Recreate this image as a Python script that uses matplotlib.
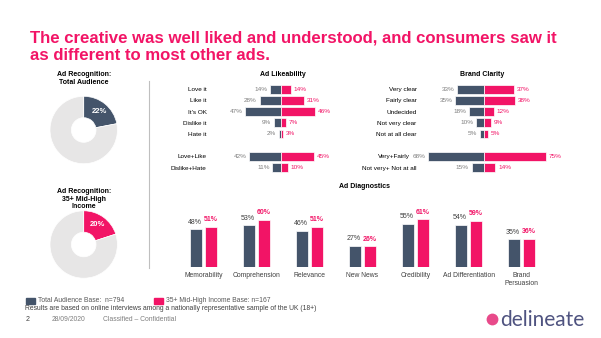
import matplotlib
matplotlib.use("Agg")
import matplotlib.pyplot as plt
from matplotlib.patches import Rectangle
from matplotlib.lines import Line2D
from matplotlib.transforms import ScaledTranslation

plt.rcParams['font.family'] = ['Liberation Sans', 'DejaVu Sans']

# colours
NAVY = '#44546A'
PINK = '#F21466'
GREY_RING = '#E7E6E6'
TXT = '#404040'
TXT_GREY = '#7F7F7F'

# data
recog_total = 22
recog_income = 20

like_cats = ["Love it", "Like it", "It's OK", "Dislike it", "Hate it", "Love+Like", "Dislike+Hate"]
like_total = [14, 28, 47, 9, 2, 42, 11]
like_income = [14, 31, 46, 7, 3, 45, 10]

clar_cats = ["Very clear", "Fairly clear", "Undecided", "Not very clear", "Not at all clear",
             "Very+Fairly", "Not very+ Not at all"]
clar_total = [33, 35, 18, 10, 5, 68, 15]
clar_income = [37, 38, 12, 9, 5, 75, 14]

diag_cats = ["Memorability", "Comprehension", "Relevance", "New News", "Credibility",
             "Ad Differentiation", "Brand\nPersuasion"]
diag_total = [48, 53, 46, 27, 55, 54, 35]
diag_income = [51, 60, 51, 26, 61, 59, 36]

row_pos = [0, 1, 2, 3, 4, 6, 7]

W, H = 601, 338
fig = plt.figure(figsize=(W / 100, H / 100), dpi=100)


def box(left, top, width, height):
    # pixel box -> figure fraction rect
    return [left / W, 1 - (top + height) / H, width / W, height / H]


def fx(x):
    return x / W


def fy(y):
    return 1 - y / H


# title
fig.text(fx(30), fy(42.5), "The creative was well liked and understood, and consumers saw it",
         color=PINK, fontsize=12.1, fontweight='bold', va='baseline')
fig.text(fx(30), fy(60), "as different to most other ads.",
         color=PINK, fontsize=12.1, fontweight='bold', va='baseline')


# donuts
def donut(cy, value, colour, title, title_top):
    r = 33.7
    ax = fig.add_axes(box(83.7 - r, cy - r, 2 * r, 2 * r))
    ax.pie([value, 100 - value], colors=[colour, GREY_RING], startangle=90, counterclock=False,
           wedgeprops=dict(width=0.635, edgecolor='white', linewidth=0.5),
           autopct=lambda p: f'{p:.0f}%' if abs(p - value) < 0.5 else '',
           pctdistance=0.72, textprops=dict(color='white', fontsize=5.5, fontweight='bold'))
    ax.set_xlim(-1, 1)
    ax.set_ylim(-1, 1)
    ax.set_aspect('equal')
    ax.axis('off')
    fig.text(fx(83.7), fy(title_top), title, ha='center', va='top', fontsize=5,
             fontweight='bold', color='black', linespacing=1.15)


donut(130, recog_total, NAVY, "Ad Recognition:\nTotal Audience", 71.5)
donut(244.5, recog_income, PINK, "Ad Recognition:\n35+ Mid-High\nIncome", 188)

fig.add_artist(Line2D([fx(149), fx(149)], [fy(81), fy(268)], color='#BFBFBF', lw=0.8,
                      transform=fig.transFigure))


# diverging bar charts
def diverge(ax, cats, left_vals, right_vals, lim, label_pad_pt):
    ax.barh(row_pos, [-v for v in left_vals], height=0.78, color=NAVY, edgecolor='white', linewidth=0.5)
    ax.barh(row_pos, right_vals, height=0.78, color=PINK, edgecolor='white', linewidth=0.5)
    for y, v in zip(row_pos, left_vals):
        ax.annotate(f'{v}%', (-v, y), xytext=(-2, 0), textcoords='offset points',
                    ha='right', va='center', fontsize=4.6, color=TXT_GREY)
    for y, v in zip(row_pos, right_vals):
        ax.annotate(f'{v}%', (v, y), xytext=(2, 0), textcoords='offset points',
                    ha='left', va='center', fontsize=4.6, color=PINK)
    ax.set_xlim(-lim, lim)
    ax.set_ylim(7.5, -0.5)
    ax.set_yticks(row_pos, cats)
    ax.tick_params(axis='y', length=0, pad=label_pad_pt, labelsize=4.6, labelcolor='black')
    ax.set_xticks([])
    for s in ax.spines.values():
        s.set_visible(False)
    ax.patch.set_alpha(0)


ax_like = fig.add_axes(box(235.7, 83.7, 90, 89.4))
diverge(ax_like, like_cats, like_total, like_income, 60, 29 * 0.72)
fig.text(fx(283), fy(74), "Ad Likeability", ha='center', va='center', fontsize=5, fontweight='bold')

ax_clar = fig.add_axes(box(418.4, 83.7, 131.2, 89.4))
diverge(ax_clar, clar_cats, clar_total, clar_income, 80, 1.7 * 0.72)
fig.text(fx(481.7), fy(75), "Brand Clarity", ha='center', va='center', fontsize=5, fontweight='bold')
# "Very+Fairly" sits a little left to clear the 68% label
lab = ax_clar.get_yticklabels()[5]
lab.set_transform(lab.get_transform() + ScaledTranslation(-5 / 72, 0, fig.dpi_scale_trans))

# diagnostics
ax_d = fig.add_axes(box(176.8, 204.3, 371.4, 62.4))
x = list(range(len(diag_cats)))
ax_d.bar([i - 0.14 for i in x], diag_total, width=0.22, color=NAVY, edgecolor='white', linewidth=0.5)
ax_d.bar([i + 0.14 for i in x], diag_income, width=0.22, color=PINK, edgecolor='white', linewidth=0.5)
for i, v in zip(x, diag_total):
    ax_d.annotate(f'{v}%', (i - 0.16, v), xytext=(0, 2.5), textcoords='offset points',
                  ha='center', va='bottom', fontsize=5, color=TXT)
for i, v in zip(x, diag_income):
    ax_d.annotate(f'{v}%', (i + 0.14, v), xytext=(0, 2.5), textcoords='offset points',
                  ha='center', va='bottom', fontsize=5, color=PINK, fontweight='bold')
ax_d.set_xlim(-0.5, 6.5)
ax_d.set_ylim(0, 80)
ax_d.set_xticks(x, diag_cats)
ax_d.tick_params(axis='x', length=0, pad=3.5, labelsize=4.9, labelcolor=TXT)
ax_d.set_yticks([])
for s in ax_d.spines.values():
    s.set_visible(False)
ax_d.patch.set_alpha(0)
fig.text(fx(364.5), fy(186.7), "Ad Diagnostics", ha='center', va='center', fontsize=5, fontweight='bold')

# footer legend
fig.add_artist(Rectangle((fx(26), fy(304)), 9 / W, 6.5 / H, color=NAVY, transform=fig.transFigure))
fig.text(fx(38.5), fy(301), "Total Audience Base:  n=794", fontsize=4.9, color='#595959', va='center')
fig.add_artist(Rectangle((fx(153.5), fy(304)), 9 / W, 6.5 / H, color=PINK, transform=fig.transFigure))
fig.text(fx(165.5), fy(301), "35+ Mid-High Income Base: n=167", fontsize=4.9, color='#595959', va='center')
fig.text(fx(25), fy(308.5),
         "Results are based on online interviews among a nationally representative sample of the UK (18+)",
         fontsize=4.9, color='#404040', va='center')
fig.text(fx(26), fy(319.5), "2", fontsize=5, color='#404040', va='center')
fig.text(fx(51.7), fy(319.5), "28/09/2020", fontsize=4.9, color=TXT_GREY, va='center')
fig.text(fx(103.3), fy(319.5), "Classified \u2013 Confidential", fontsize=4.9, color=TXT_GREY, va='center')

# logo
fig.add_artist(Line2D([fx(491.7)], [fy(319.3)], marker='o', markersize=8.5, color='#E84A8A',
                      markeredgewidth=0, transform=fig.transFigure))
fig.text(fx(500.5), fy(325.7), "delineate", fontsize=15, color='#4F5380', va='baseline',
         family=['Lato', 'DejaVu Sans'])

fig.savefig("out.png", dpi=100)
